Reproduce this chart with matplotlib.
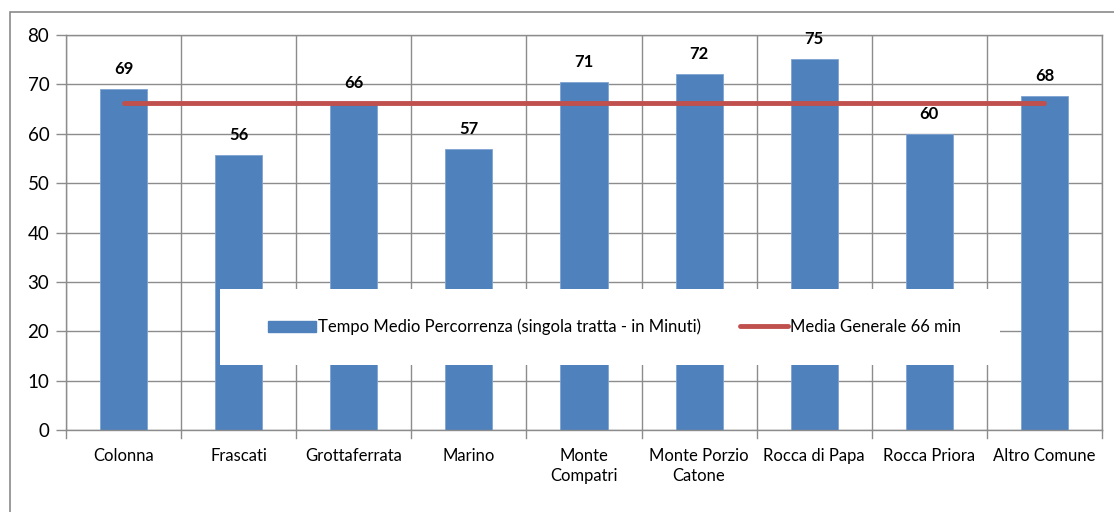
import matplotlib
matplotlib.use("Agg")
import matplotlib.pyplot as plt
import numpy as np
from matplotlib.patches import Rectangle, Patch
from matplotlib.lines import Line2D

categories = ["Colonna", "Frascati", "Grottaferrata", "Marino", "Monte\nCompatri",
              "Monte Porzio\nCatone", "Rocca di Papa", "Rocca Priora", "Altro Comune"]
values = [69.1, 55.6, 66.3, 56.9, 70.5, 72.1, 75.2, 60.0, 67.7]
value_labels = ["69", "56", "66", "57", "71", "72", "75", "60", "68"]
mean_value = 66.3
bar_label = "Tempo Medio Percorrenza (singola tratta - in Minuti)"
line_label = "Media Generale 66 min"
yticks = [0, 10, 20, 30, 40, 50, 60, 70, 80]

plt.rcParams['font.family'] = ['Lato', 'DejaVu Sans']

W, H = 1114, 512
fig = plt.figure(figsize=(W / 100, H / 100), dpi=100)
fig.patch.set_facecolor("white")

# outer frame
fig.patches.append(Rectangle((10 / W, -0.2), 1.2, (H - 12) / H + 0.2, transform=fig.transFigure,
                             fill=False, edgecolor="#8a8a8a", linewidth=1.2, zorder=0))

ax = fig.add_axes([66 / W, (H - 430) / H, (1102 - 66) / W, (430 - 35) / H])
x = np.arange(len(categories))
grid_c = "#8c8c8c"

ax.bar(x, values, width=0.41, color="#4F81BD", edgecolor="#7ea3d3", linewidth=0.6, zorder=2)
ax.plot([x[0], x[-1]], [mean_value, mean_value], color="#C0504D", linewidth=3.5,
        solid_capstyle="round", zorder=3)

for xi, v, lab in zip(x, values, value_labels):
    ax.annotate(lab, (xi, v), xytext=(0, 12), textcoords="offset pixels", ha="center", va="bottom",
                fontsize=12, fontweight="bold", color="black", zorder=4)

ax.set_xlim(-0.5, len(categories) - 0.5)
ax.set_ylim(0, 80)
ax.set_yticks(yticks)
ax.set_yticklabels([str(t) for t in yticks], fontsize=13.5)
ax.set_xticks(x)
ax.set_xticklabels(categories, fontsize=12, linespacing=1.3)
ax.tick_params(axis="x", length=0, pad=13)
ax.tick_params(axis="y", length=7, color=grid_c, width=1, pad=5)

# vertical grid at boundaries and tick marks below axis
bounds = np.arange(-0.5, len(categories), 1.0)
for b in bounds:
    ax.axvline(b, color=grid_c, linewidth=1, zorder=1)
    ax.plot([b, b], [0, -1.6], color=grid_c, linewidth=1, clip_on=False, zorder=1)
ax.yaxis.grid(True, color=grid_c, linewidth=1, zorder=1)
ax.set_axisbelow(True)
for s in ["top", "right", "left", "bottom"]:
    ax.spines[s].set_color(grid_c)
    ax.spines[s].set_linewidth(1)

# legend box
ax.add_patch(Rectangle((220, H - 365), 780, 76, transform=None, facecolor="white",
                       edgecolor="none", zorder=5))
handles = [Patch(facecolor="#4F81BD", edgecolor="#4F81BD"),
           Line2D([0], [0], color="#C0504D", linewidth=3.5, solid_capstyle="round")]
leg = ax.legend(handles, [bar_label, line_label], ncol=2, frameon=False,
                loc="center left", bbox_to_anchor=(253 / W, (H - 327) / H),
                bbox_transform=fig.transFigure, fontsize=12, handlelength=2.9,
                handletextpad=0.12, columnspacing=2.3, handleheight=0.7)
leg.set_zorder(6)

fig.savefig("out.png", dpi=100, facecolor="white")
